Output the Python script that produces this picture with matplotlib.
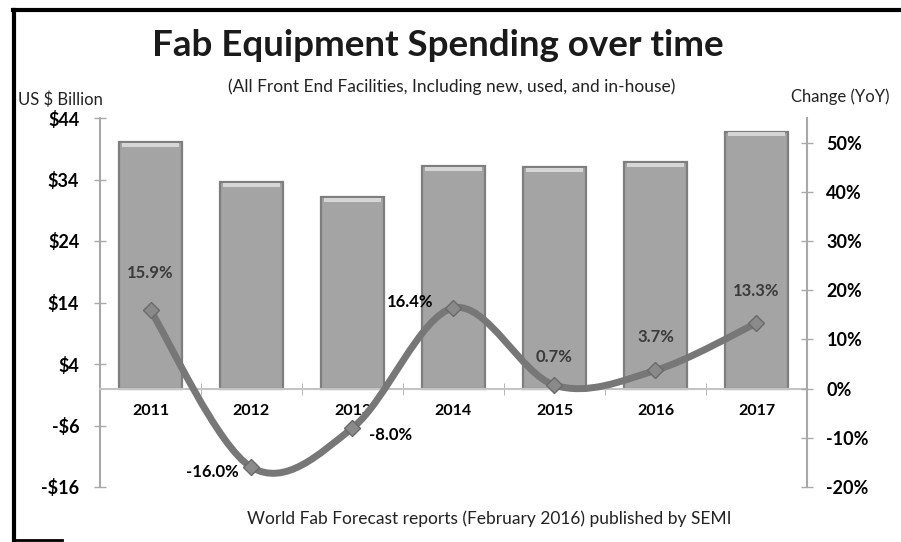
import matplotlib
matplotlib.use("Agg")
import matplotlib.pyplot as plt
from matplotlib.path import Path
from matplotlib.patches import PathPatch
from matplotlib.ticker import FixedLocator

years = ["2011", "2012", "2013", "2014", "2015", "2016", "2017"]
spending = [40.1, 33.6, 31.1, 36.2, 36.0, 36.8, 41.8]          # US $ Billion
change = [15.9, -16.0, -8.0, 16.4, 0.7, 3.7, 13.3]              # YoY %
change_labels = ["15.9%", "-16.0%", "-8.0%", "16.4%", "0.7%", "3.7%", "13.3%"]
left_ticks = [-16, -6, 4, 14, 24, 34, 44]
left_ticklabels = ["-$16", "-$6", "$4", "$14", "$24", "$34", "$44"]
right_ticks = [-20, -10, 0, 10, 20, 30, 40, 50]
right_ticklabels = ["-20%", "-10%", "0%", "10%", "20%", "30%", "40%", "50%"]

plt.rcParams['font.family'] = ['Lato', 'DejaVu Sans']

W, H = 901, 542
fig = plt.figure(figsize=(W / 100, H / 100), dpi=100)

def fx(px):
    return px / W

def fy(py):
    return 1 - py / H

ax = fig.add_axes([fx(100), fy(487), (807 - 100) / W, (487 - 118) / H])
ax2 = ax.twinx()

for a in (ax, ax2):
    a.spines["top"].set_visible(False)
    a.patch.set_visible(False)
ax.spines["bottom"].set_position(("data", 0))
ax.spines["bottom"].set_color("#c4c4c4")
ax.spines["bottom"].set_linewidth(1.5)
ax2.spines["bottom"].set_visible(False)
ax.spines["right"].set_visible(False)
ax2.spines["left"].set_visible(False)
ax.spines["left"].set_color("#a8a8a8")
ax.spines["left"].set_linewidth(1.5)
ax2.spines["right"].set_color("#a8a8a8")
ax2.spines["right"].set_linewidth(1.5)

x = list(range(len(years)))
ax.bar(x, spending, width=0.62, color="#a4a4a4", edgecolor="#7e7e7e", linewidth=1.6, zorder=2)
# light bevel strip at the top of each bar
ax.bar(x, [0.6] * len(x), bottom=[v - 0.75 for v in spending], width=0.57,
       color="#d6d6d6", linewidth=0, zorder=3)

ax.set_xlim(-0.5, len(years) - 0.5)
ax.set_ylim(-16, 44)
ax2.set_ylim(-20, 55)

ax.set_yticks(left_ticks)
ax.set_yticklabels(left_ticklabels, fontsize=13, fontweight="bold")
ax2.set_yticks(right_ticks)
ax2.set_yticklabels(right_ticklabels, fontsize=13, fontweight="bold")

ax.set_xticks(x)
ax.set_xticklabels(years, fontsize=11.5, fontweight="bold")
ax.xaxis.set_minor_locator(FixedLocator([i + 0.5 for i in range(len(years) - 1)]))
ax.tick_params(axis="x", which="major", length=0, pad=11)
ax.tick_params(axis="x", which="minor", length=8, direction="inout", color="#aaaaaa")
ax.tick_params(axis="y", length=8, direction="inout", color="#aaaaaa", width=1, pad=11)
ax2.tick_params(axis="y", length=8, direction="inout", color="#aaaaaa", width=1, pad=10)

# smoothed line (Excel-style Bezier) built from the data points
pts = list(zip(x, change))
verts = [pts[0]]
codes = [Path.MOVETO]
n = len(pts)
for i in range(n - 1):
    p0 = pts[i - 1] if i > 0 else pts[i]
    p1 = pts[i]
    p2 = pts[i + 1]
    p3 = pts[i + 2] if i + 2 < n else pts[i + 1]
    c1 = (p1[0] + (p2[0] - p0[0]) / 6, p1[1] + (p2[1] - p0[1]) / 6)
    c2 = (p2[0] - (p3[0] - p1[0]) / 6, p2[1] - (p3[1] - p1[1]) / 6)
    verts += [c1, c2, p2]
    codes += [Path.CURVE4] * 3
ax2.add_patch(PathPatch(Path(verts, codes), facecolor="none", edgecolor="#777777",
                        linewidth=5, capstyle="round", joinstyle="round", zorder=4))
ax2.plot(x, change, linestyle="none", marker="D", markersize=8, color="#8a8a8a",
         markeredgecolor="#6a6a6a", zorder=5)

offsets = [(0, 37), (-39, -5), (38, -7), (-43, 6), (0, 28), (0, 33), (0, 32)]
colors = ["#3a3a3a", "black", "black", "black", "#3a3a3a", "#3a3a3a", "#3a3a3a"]
for xi, yi, lab, off, c in zip(x, change, change_labels, offsets, colors):
    ax2.annotate(lab, (xi, yi), xytext=off, textcoords="offset pixels",
                 ha="center", va="center", fontsize=12, fontweight="bold", color=c, zorder=6)

fig.text(fx(438), fy(45), "Fab Equipment Spending over time", ha="center", va="center",
         fontsize=26.5, fontweight="bold", color="#1a1a1a")
fig.text(fx(452), fy(87), "(All Front End Facilities, Including new, used, and in-house)",
         ha="center", va="center", fontsize=12.5, color="#222222")
fig.text(fx(60), fy(100), "US $ Billion", ha="center", va="center", fontsize=12, color="#222222")
fig.text(fx(840), fy(97), "Change (YoY)", ha="center", va="center", fontsize=12, color="#222222")
fig.text(fx(489), fy(519), "World Fab Forecast reports (February 2016) published by SEMI",
         ha="center", va="center", fontsize=12.5, color="#222222")

# frame lines
fig.add_artist(plt.Line2D([fx(13), 1], [fy(10), fy(10)], color="black", linewidth=3))
fig.add_artist(plt.Line2D([fx(14), fx(14)], [fy(10), fy(542)], color="black", linewidth=3))
fig.add_artist(plt.Line2D([fx(13), fx(62)], [fy(540), fy(540)], color="black", linewidth=2))

fig.savefig("out.png", dpi=100)
